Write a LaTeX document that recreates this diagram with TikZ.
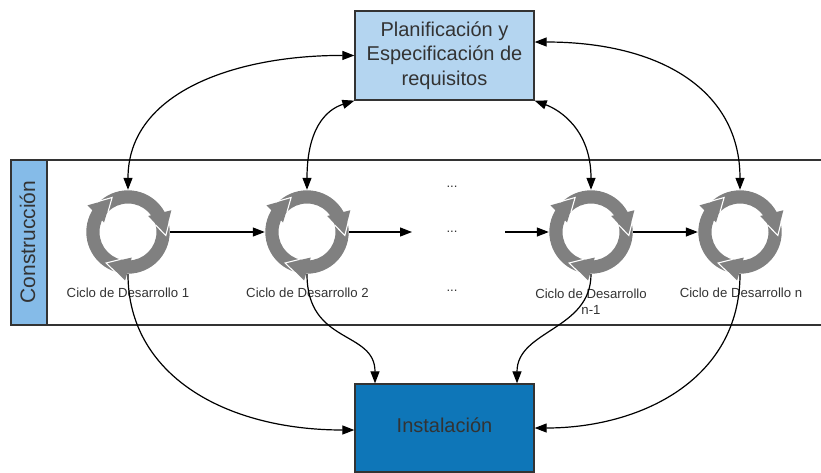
\documentclass[tikz,border=0pt]{standalone}
\usepackage{fontspec}
\setmainfont{Liberation Sans}
\usetikzlibrary{arrows.meta}
\definecolor{ink}{HTML}{333333}
\definecolor{paleblue}{HTML}{B4D5F0}
\definecolor{midblue}{HTML}{85BBE8}
\definecolor{deepblue}{HTML}{0E76B8}
\definecolor{ringgrey}{HTML}{808080}
\tikzset{
  x=1pt,y=-1pt,
  boxst/.style={draw=ink,line width=1.3pt,inner sep=0pt,align=center,text=ink,font=\fontsize{20}{24.5}\selectfont},
  boxtext/.style={inner sep=0pt,align=center,text=ink,font=\fontsize{20}{24.5}\selectfont},
  labelst/.style={inner sep=0pt,align=center,text=ink,font=\fontsize{13.2}{16.5}\selectfont},
  ringnode/.style={circle,inner sep=0pt,minimum size=84pt},
  conn/.style={draw=black,line width=1.2pt,-{Triangle[length=12pt,width=9pt]}},
  biconn/.style={draw=black,line width=1.2pt,{Triangle[length=12pt,width=9pt]}-{Triangle[length=12pt,width=9pt]}},
  cycleicon/.pic={
    \fill[ringgrey,even odd rule] (0,0) circle[radius=41.7] (0,0) circle[radius=28.5];
    \foreach \r in {0,-120,-240}{
      \begin{scope}[rotate=\r]
        \fill[ringgrey] (-16.7,-33.3) -- (-40.5,-26.7) -- (-24,-9.5) -- cycle;
        \draw[white,line width=1.1pt,line join=miter] (-31,-30.2) -- (-15.9,-34.5) -- (-20,-20);
      \end{scope}
    }
  }
}
\begin{document}
\begin{tikzpicture}
\useasboundingbox (0,0) rectangle (821,472);
% band
\draw[ink,line width=1.3pt] (821,160) -- (11,160) -- (11,325) -- (821,325);
\node[draw=ink,line width=1.3pt,fill=midblue,minimum width=36pt,minimum height=165pt,inner sep=0pt] (head) at (29,242.5) {};
\node[rotate=90,text=ink,inner sep=0pt,font=\fontsize{21}{24}\selectfont] (headtext) at (27.5,242) {Construcción};
% boxes
\node[boxst,fill=paleblue,minimum width=179pt,minimum height=89pt] (plan) at (444.5,55.5) {Planificación y\\Especificación de\\requisitos};
\node[boxst,fill=deepblue,minimum width=179pt,minimum height=88pt] (inst) at (444.5,428) {};
\node[boxtext] (insttext) at (444.5,425) {Instalación};
% rings
\node[ringnode] (c1) at (128,232) {};
\node[ringnode] (c2) at (307,232) {};
\node[ringnode] (c3) at (591,232) {};
\node[ringnode] (c4) at (740,232) {};
\foreach \n in {c1,c2,c3,c4} \pic at (\n) {cycleicon};
% labels
\node[labelst] (l1) at (128,293) {Ciclo de Desarrollo 1};
\node[labelst] (l2) at (307.5,293) {Ciclo de Desarrollo 2};
\node[labelst,anchor=north] (l3) at (591,288.5) {Ciclo de Desarrollo\\n-1};
\node[labelst] (l4) at (741,293) {Ciclo de Desarrollo n};
\node[labelst] (d1) at (452,187) {...};
\node[labelst] (d2) at (452,232) {...};
\node[labelst] (d3) at (452,291) {...};
\coordinate (f1) at (412,232);
\coordinate (f2) at (505,232);
% horizontal
\draw[conn] (c1.east) -- (c2.west);
\draw[conn] (c2.east) -- (f1);
\draw[conn] (f2) -- (c3.west);
\draw[conn] (c3.east) -- (c4.west);
% top
\draw[biconn] (plan.west) .. controls (240,55) and (128,90) .. (c1.north);
\draw[biconn] (plan.south west) .. controls (325,110) and (307,130) .. (c2.north);
\draw[biconn] (plan.south east) .. controls (560,110) and (591,130) .. (c3.north);
\draw[biconn] (plan.east|-0,42) .. controls (660,42) and (740,90) .. (c4.north);
% bottom
\draw[conn] (c1.south) .. controls (128,375) and (225,430) .. (inst.west|-0,430);
\draw[conn] (c2.south) .. controls (307,345) and (375,330) .. (inst.north-|375,0);
\draw[conn] (c3.south) .. controls (591,330) and (517,330) .. (inst.north-|517,0);
\draw[conn] (c4.south) .. controls (740,380) and (640,428) .. (inst.east|-0,428);
\end{tikzpicture}
\end{document}
